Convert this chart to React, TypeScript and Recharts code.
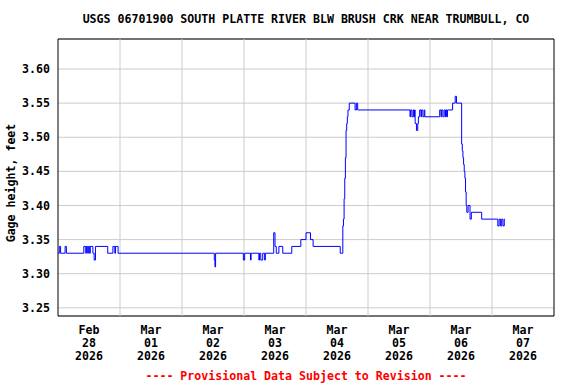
import React from 'react';
import {
  LineChart,
  Line,
  XAxis,
  YAxis,
  CartesianGrid,
  ReferenceLine,
  ReferenceArea,
} from 'recharts';

// Change points of the 15-minute gage height record (hours since Feb 28 2026 00:00)
const hours = [
  0, 0.5, 1.0, 2.75, 3.25, 10.0, 10.75, 11.0, 11.5, 11.75, 12.25, 12.5, 13.5, 14.0, 14.5,
  19.25, 21.25, 22.0, 22.25, 23.25,
  60.5, 60.75, 61.0, 71.75, 72.25, 74.5, 74.75, 77.75, 78.0, 78.5, 79.25, 80.0, 80.25,
  83.5, 84.0, 84.5, 85.5, 87.0, 90.5, 94.0, 96.0, 97.75, 98.75, 109.25,
  110.25, 110.5, 110.75, 111.0, 111.25, 111.5, 111.75, 112.0, 112.25, 112.75,
  115.0, 115.5, 116.0,
  136.25, 136.5, 137.0, 137.5, 137.75, 138.0, 138.25, 138.75, 139.25, 139.5, 140.0,
  140.5, 140.75, 141.25, 141.75, 142.0,
  147.75, 148.25, 148.5, 149.0, 149.5, 150.0, 150.25, 150.5, 150.75,
  152.75, 153.75, 154.25,
  156.25, 156.5, 156.75, 157.0, 157.25, 157.5, 157.75, 158.0, 158.25, 158.75, 159.5, 160.0,
  164.0, 170.25, 170.75, 171.25, 171.75, 172.25, 172.75, 173.0,
];
const gage = [
  3.33, 3.34, 3.33, 3.34, 3.33, 3.34, 3.33, 3.34, 3.33, 3.34, 3.33, 3.34, 3.33, 3.32, 3.34,
  3.33, 3.34, 3.33, 3.34, 3.33,
  3.32, 3.31, 3.33, 3.32, 3.33, 3.32, 3.33, 3.32, 3.33, 3.32, 3.33, 3.32, 3.33,
  3.36, 3.34, 3.33, 3.34, 3.33, 3.34, 3.35, 3.36, 3.35, 3.34, 3.33,
  3.37, 3.38, 3.41, 3.44, 3.47, 3.51, 3.52, 3.53, 3.54, 3.55,
  3.54, 3.55, 3.54,
  3.53, 3.54, 3.53, 3.54, 3.53, 3.54, 3.52, 3.51, 3.52, 3.53, 3.54,
  3.53, 3.54, 3.53, 3.54, 3.53,
  3.54, 3.53, 3.54, 3.53, 3.54, 3.53, 3.54, 3.53, 3.54,
  3.55, 3.56, 3.55,
  3.49, 3.48, 3.47, 3.46, 3.45, 3.44, 3.42, 3.40, 3.39, 3.40, 3.38, 3.39,
  3.38, 3.37, 3.38, 3.37, 3.38, 3.37, 3.38, 3.38,
];

const yTicks = [3.25, 3.3, 3.35, 3.4, 3.45, 3.5, 3.55, 3.6];
const dayLines = [24, 48, 72, 96, 120, 144, 168];
const tickHours = [12, 36, 60, 84, 108, 132, 156, 180];
const tickMonths = ['Feb', 'Mar', 'Mar', 'Mar', 'Mar', 'Mar', 'Mar', 'Mar'];
const tickDays = ['28', '01', '02', '03', '04', '05', '06', '07'];
const tickYears = ['2026', '2026', '2026', '2026', '2026', '2026', '2026', '2026'];

const data = hours.map((h, i) => ({ h, v: gage[i] }));

const FONT = '"DejaVu Sans Mono", "Liberation Mono", monospace';
const FS = 11.6;

const XTick = (props: any) => {
  const { x, payload } = props;
  const i = tickHours.indexOf(payload.value);
  if (i < 0) return null;
  return (
    <text
      x={x}
      textAnchor="middle"
      fontFamily={FONT}
      fontSize={FS}
      fontWeight="bold"
      fill="#000"
    >
      <tspan x={x} y={334}>{tickMonths[i]}</tspan>
      <tspan x={x} y={347}>{tickDays[i]}</tspan>
      <tspan x={x} y={360}>{tickYears[i]}</tspan>
    </text>
  );
};

const textStyle: React.CSSProperties = {
  position: 'absolute',
  fontFamily: FONT,
  fontSize: FS,
  fontWeight: 'bold',
  lineHeight: '14px',
  whiteSpace: 'nowrap',
  textAlign: 'center',
};

export default function App() {
  return (
    <div
      style={{
        position: 'absolute',
        left: 0,
        top: 0,
        width: 576,
        height: 384,
        background: '#fff',
        overflow: 'hidden',
      }}
    >
      <LineChart
        width={576}
        height={384}
        data={data}
        margin={{ top: 39, right: 22, bottom: 0, left: 0 }}
      >
        <CartesianGrid vertical={false} stroke="#cccccc" />
        {dayLines.map((d) => (
          <ReferenceLine key={d} x={d} stroke="#cccccc" strokeWidth={1} />
        ))}
        <XAxis
          dataKey="h"
          type="number"
          domain={[0, 192]}
          ticks={tickHours}
          interval={0}
          tickLine={false}
          axisLine={false}
          height={68}
          tick={<XTick />}
        />
        <YAxis
          type="number"
          domain={[3.238, 3.644]}
          ticks={yTicks}
          interval={0}
          tickFormatter={(v: number) => v.toFixed(2)}
          tickLine={false}
          axisLine={false}
          width={58}
          tick={{ fill: '#000', fontFamily: FONT, fontSize: FS, fontWeight: 'bold' }}
        />
        <Line
          type="stepAfter"
          dataKey="v"
          stroke="#0000ff"
          strokeWidth={1}
          dot={false}
          activeDot={false}
          isAnimationActive={false}
        />
        <ReferenceArea
          x1={0}
          x2={192}
          y1={3.238}
          y2={3.644}
          fill="none"
          fillOpacity={0}
          stroke="#000"
          strokeWidth={1}
          ifOverflow="visible"
        />
      </LineChart>
      <div style={{ ...textStyle, left: 0, top: 12, width: 612 }}>
        USGS 06701900 SOUTH PLATTE RIVER BLW BRUSH CRK NEAR TRUMBULL, CO
      </div>
      <div style={{ ...textStyle, left: 0, top: 369, width: 612, color: '#ff0000' }}>
        ---- Provisional Data Subject to Revision ----
      </div>
      <div
        style={{
          ...textStyle,
          left: -89,
          top: 176,
          width: 200,
          height: 14,
          transform: 'rotate(-90deg)',
        }}
      >
        Gage height, feet
      </div>
    </div>
  );
}
